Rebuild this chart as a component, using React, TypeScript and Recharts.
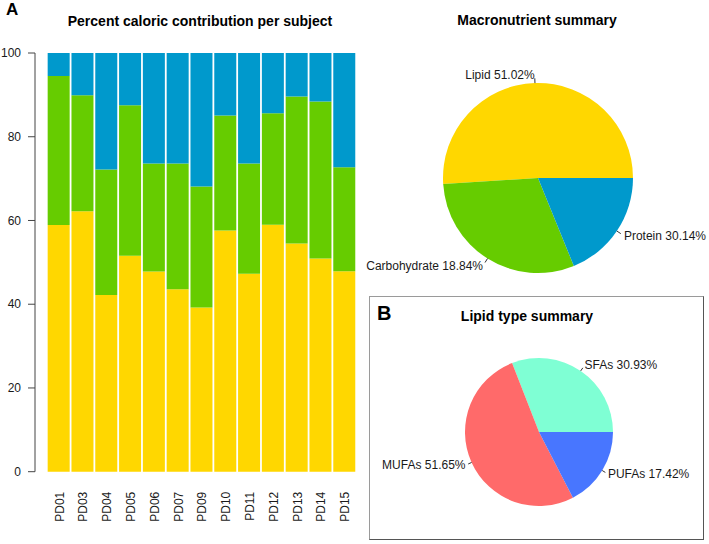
import React from 'react';
import { BarChart, Bar, XAxis, YAxis, PieChart, Pie, Cell } from 'recharts';

const subjects = ['PD01', 'PD03', 'PD04', 'PD05', 'PD06', 'PD07', 'PD09', 'PD10', 'PD11', 'PD12', 'PD13', 'PD14', 'PD15'];
const lipidPct = [58.9, 62.2, 42.2, 51.6, 47.8, 43.6, 39.2, 57.6, 47.3, 59.0, 54.5, 50.9, 47.9];
const carbPct = [35.6, 27.7, 30.0, 35.9, 25.8, 30.0, 28.9, 27.5, 26.3, 26.6, 35.1, 37.5, 24.8];
const proteinPct = [5.5, 10.1, 27.8, 12.5, 26.4, 26.4, 31.9, 14.9, 26.4, 14.4, 10.4, 11.6, 27.3];
const yTicks = [0, 20, 40, 60, 80, 100];

const macroNames = ['Lipid', 'Carbohydrate', 'Protein'];
const macroValues = [51.02, 30.14, 18.84];
const macroLabelPct = ['51.02%', '18.84%', '30.14%'];
const macroColors = ['#FFD700', '#66CC00', '#0099CC'];

const lipidTypeNames = ['SFAs', 'MUFAs', 'PUFAs'];
const lipidTypeValues = [30.93, 51.65, 17.42];
const lipidTypeLabelPct = ['30.93%', '51.65%', '17.42%'];
const lipidTypeColors = ['#7FFFD4', '#FF6A6A', '#4876FF'];

const FONT = '"Liberation Sans", Arial, Helvetica, sans-serif';

const barData = subjects.map((s, i) => ({
  subject: s,
  lipid: lipidPct[i],
  carb: carbPct[i],
  protein: proteinPct[i],
}));

const macroData = macroNames.map((n, i) => ({ name: n, value: macroValues[i], label: `${n} ${macroLabelPct[i]}` }));
const lipidTypeData = lipidTypeNames.map((n, i) => ({ name: n, value: lipidTypeValues[i], label: `${n} ${lipidTypeLabelPct[i]}` }));

const RAD = Math.PI / 180;
const NO_MARGIN = { top: 0, right: 0, bottom: 0, left: 0 };

const renderPieLabel = (props: any) => {
  const { cx, cy, midAngle, outerRadius, payload, index } = props;
  const c = Math.cos(-midAngle * RAD);
  const s = Math.sin(-midAngle * RAD);
  const x1 = cx + outerRadius * c;
  const y1 = cy + outerRadius * s;
  const x2 = cx + outerRadius * 1.05 * c;
  const y2 = cy + outerRadius * 1.05 * s;
  const tx = cx + outerRadius * 1.09 * c;
  const ty = cy + outerRadius * 1.09 * s;
  const text = (payload && payload.label) || props.label || '';
  return (
    <g key={`lbl-${index}`}>
      <line x1={x1} y1={y1} x2={x2} y2={y2} stroke="#333" strokeWidth={1} />
      <text
        x={tx}
        y={ty}
        textAnchor={c < 0 ? 'end' : 'start'}
        dominantBaseline="central"
        fontSize={12}
        fontFamily={FONT}
        fill="#1a1a1a"
      >
        {text}
      </text>
    </g>
  );
};

const XTick = (props: any) => {
  const { x, y, payload } = props;
  return (
    <text
      x={x}
      y={y}
      dy="0.42em"
      transform={`rotate(-90, ${x}, ${y})`}
      textAnchor="end"
      fontSize={12}
      fontFamily={FONT}
      fill="#1a1a1a"
    >
      {payload.value}
    </text>
  );
};

export default function App() {
  return (
    <div style={{ position: 'absolute', left: 0, top: 0, width: 709, height: 544, background: '#fff', fontFamily: FONT, overflow: 'hidden' }}>
      <div style={{ position: 'absolute', left: 0, top: 0 }}>
        <BarChart
          width={370}
          height={544}
          data={barData}
          margin={{ top: 53, right: 14, bottom: 0, left: 0 }}
          barCategoryGap="4.5%"
        >
          <XAxis
            dataKey="subject"
            height={72.3}
            axisLine={false}
            tickLine={false}
            tickSize={0}
            tickMargin={20}
            padding={{ left: 11.6, right: 0 }}
            interval={0}
            tick={<XTick />}
          />
          <YAxis
            width={35}
            domain={[0, 100]}
            ticks={yTicks}
            interval={0}
            tickSize={7}
            tickMargin={7}
            stroke="#444"
            tick={{ fontSize: 12, fill: '#1a1a1a', fontFamily: FONT }}
          />
          <Bar dataKey="lipid" stackId="a" fill="#FFD700" isAnimationActive={false} />
          <Bar dataKey="carb" stackId="a" fill="#66CC00" isAnimationActive={false} />
          <Bar dataKey="protein" stackId="a" fill="#0099CC" isAnimationActive={false} />
        </BarChart>
      </div>

      <div style={{ position: 'absolute', left: 340, top: 0 }}>
        <PieChart width={369} height={290} margin={NO_MARGIN}>
          <Pie
            data={macroData}
            dataKey="value"
            nameKey="name"
            cx={198}
            cy={178}
            outerRadius={95}
            startAngle={0}
            endAngle={360}
            stroke="none"
            label={renderPieLabel}
            labelLine={false}
            isAnimationActive={false}
          >
            {macroData.map((d, i) => (
              <Cell key={d.name} fill={macroColors[i]} />
            ))}
          </Pie>
        </PieChart>
      </div>

      <div
        style={{
          position: 'absolute',
          left: 369,
          top: 296,
          width: 335,
          height: 244,
          borderTop: '1.5px solid #9a9a9a',
          borderLeft: '1.5px solid #9a9a9a',
          borderRight: '1.5px solid #555',
          borderBottom: '1.5px solid #555',
          boxSizing: 'border-box',
        }}
      />

      <div style={{ position: 'absolute', left: 370, top: 297 }}>
        <PieChart width={332} height={241} margin={NO_MARGIN}>
          <Pie
            data={lipidTypeData}
            dataKey="value"
            nameKey="name"
            cx={169}
            cy={135}
            outerRadius={74}
            startAngle={0}
            endAngle={360}
            stroke="none"
            label={renderPieLabel}
            labelLine={false}
            isAnimationActive={false}
          >
            {lipidTypeData.map((d, i) => (
              <Cell key={d.name} fill={lipidTypeColors[i]} />
            ))}
          </Pie>
        </PieChart>
      </div>

      <svg width={709} height={544} style={{ position: 'absolute', left: 0, top: 0, pointerEvents: 'none' }}>
        <text x={6} y={15} fontSize={17} fontWeight="bold" fontFamily={FONT} fill="#000">A</text>
        <text x={200} y={25.7} textAnchor="middle" fontSize={14} fontWeight="bold" fontFamily={FONT} fill="#000">
          Percent caloric contribution per subject
        </text>
        <text x={537} y={25} textAnchor="middle" fontSize={14} fontWeight="bold" fontFamily={FONT} fill="#000">
          Macronutrient summary
        </text>
        <text x={377} y={320} fontSize={20} fontWeight="bold" fontFamily={FONT} fill="#000">B</text>
        <text x={527} y={320.7} textAnchor="middle" fontSize={14} fontWeight="bold" fontFamily={FONT} fill="#000">
          Lipid type summary
        </text>
      </svg>
    </div>
  );
}
